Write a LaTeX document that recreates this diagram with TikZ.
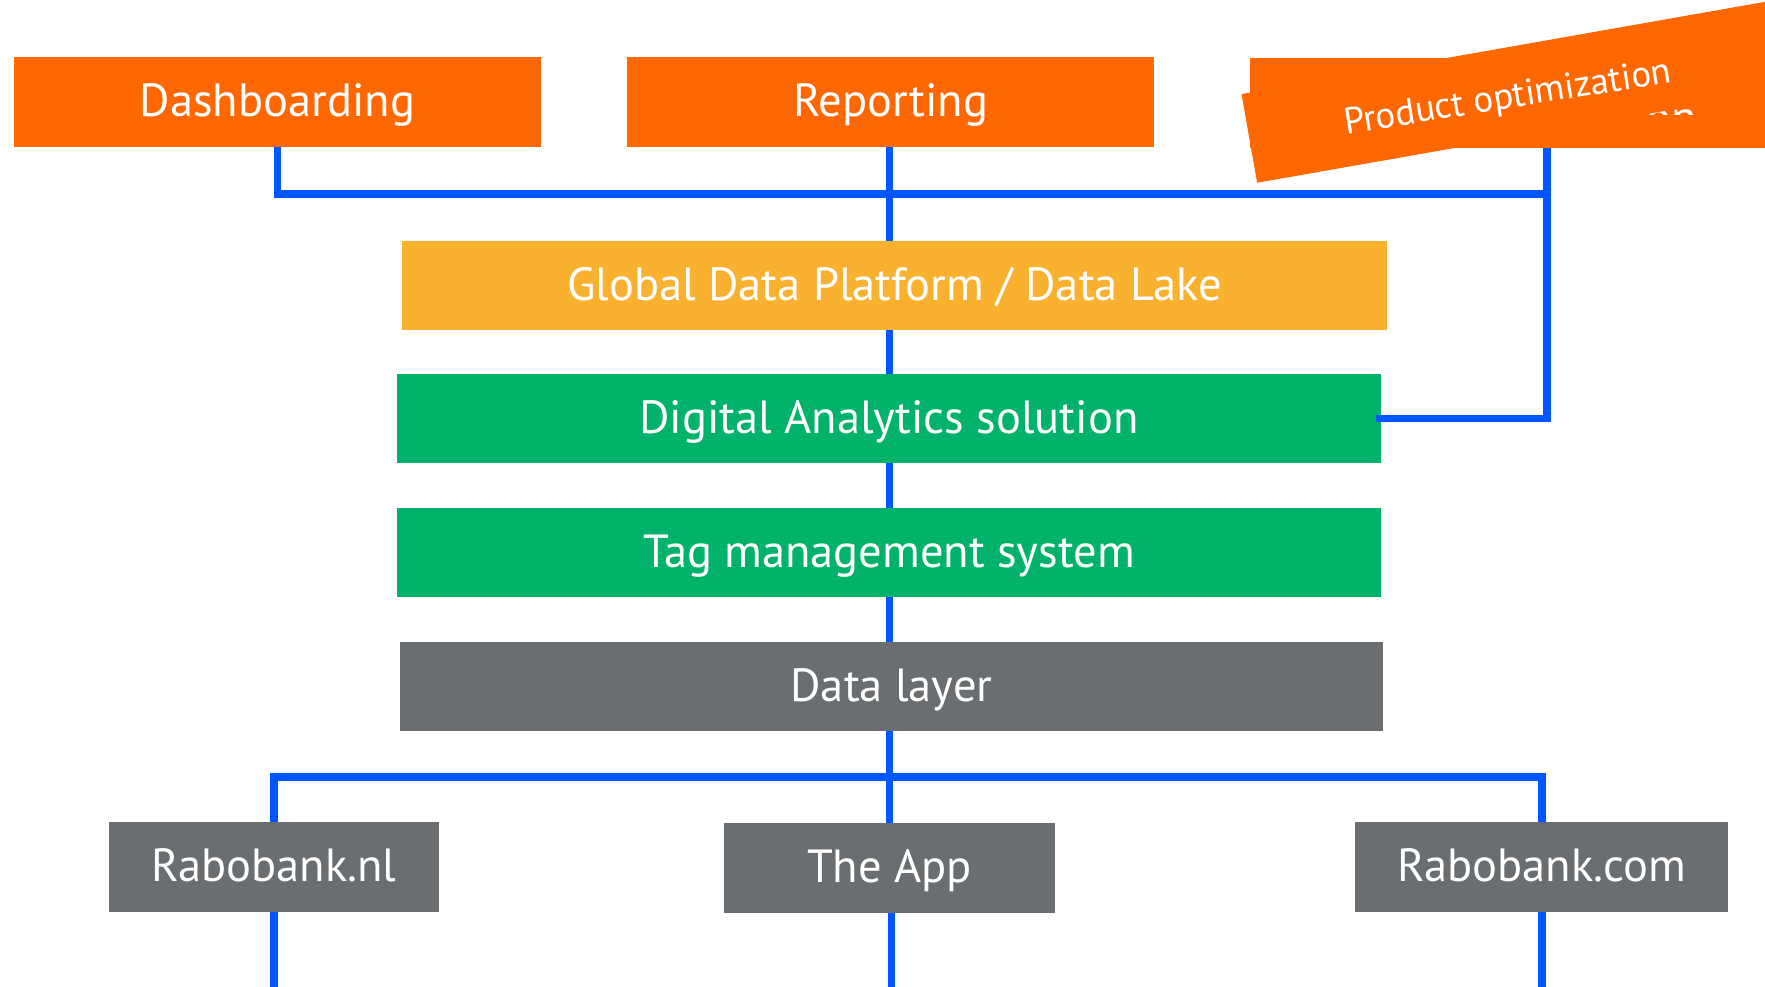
\documentclass[tikz,border=0pt]{standalone}
\usepackage{fontspec}
\setmainfont{PT Sans}
\definecolor{rorange}{HTML}{FF6800}
\definecolor{ryellow}{HTML}{FBB130}
\definecolor{rgreen}{HTML}{00B26A}
\definecolor{rgray}{HTML}{6B6E70}
\definecolor{rblue}{HTML}{0057FF}
\tikzset{
  box/.style={rectangle, inner sep=0pt, minimum height=90pt, text=white,
    text height=37pt, text depth=8pt,
    font=\fontsize{46.5}{50}\selectfont},
  conn/.style={draw=rblue, line width=7.5pt, line join=miter},
}
\begin{document}
\begin{tikzpicture}[x=1pt,y=-1pt]
\useasboundingbox (0,0) rectangle (1765,986);
\clip (0,0) rectangle (1765,986);
\node[box, fill=rorange, minimum width=527pt] (dash) at (277.5,102) {Dashboarding};
\node[box, fill=rorange, minimum width=527pt] (rep) at (890.5,102) {Reporting};
\node[box, fill=rorange, minimum width=527pt] (prod) at (1513.5,103) {};
\coordinate (prodout) at ([xshift=33.5pt]prod.south);
% text of the base product box, almost entirely hidden
\begin{scope}
\clip (1600,0) rectangle (1765,114);
\node[text=white, inner sep=0pt, anchor=base east, font=\fontsize{46.5}{50}\selectfont] (prodhidden) at (1697,133) {Product optimization};
\end{scope}
\node[box, fill=ryellow, minimum width=985pt, minimum height=89pt] (gdp) at (894.5,285.5) {Global Data Platform / Data Lake};
\node[box, fill=rgreen, minimum width=984pt, minimum height=89pt] (da) at (889,418.5) {Digital Analytics solution};
\node[box, fill=rgreen, minimum width=984pt, minimum height=89pt] (tag) at (889,552.5) {Tag management system};
\node[box, fill=rgray, minimum width=983pt, minimum height=89pt] (dl) at (891.5,686.5) {Data layer};
\node[box, fill=rgray, minimum width=330pt] (nl) at (274,867) {Rabobank.nl};
\node[box, fill=rgray, minimum width=331pt] (app) at (889.5,868) {The App};
\node[box, fill=rgray, minimum width=373pt] (com) at (1541.5,867) {Rabobank.com};
% rotated overlay of the product box
\node[fill=rorange, inner sep=0pt, minimum width=700pt, minimum height=90pt, rotate=10, anchor=south west] (prodrot) at (1257,183) {};
\node[text=white, inner sep=0pt, rotate=9, font=\fontsize{37}{40}\selectfont] (prodtext) at (1508,99) {Product optimization};
% helper coordinates
\coordinate (bot) at (0,990);
\coordinate (topbus) at (0,194);
\coordinate (botbus) at (0,777);
% top connectors
\draw[conn] (dash.south) |- (prodout |- topbus);
\draw[conn] (prodout) -- (prodout |- da.east) -- ([xshift=-5pt]da.east);
\draw[conn] (rep.south -| app.north) -- (gdp.north -| app.north);
\draw[conn] (gdp.south -| app.north) -- (da.north -| app.north);
\draw[conn] (da.south -| app.north) -- (tag.north -| app.north);
\draw[conn] (tag.south -| app.north) -- (dl.north -| app.north);
% bottom connectors
\draw[conn] (dl.south -| app.north) -- (app.north);
\draw[conn] (nl.north) |- (botbus -| app.north) -| ([xshift=0.5pt]com.north);
\draw[conn] (nl.south) -- (nl.south |- bot);
\draw[conn] ([xshift=2pt]app.south) -- ([xshift=2pt]app.south |- bot);
\draw[conn] ([xshift=0.5pt]com.south) -- ([xshift=0.5pt]com.south |- bot);
\end{tikzpicture}
\end{document}
